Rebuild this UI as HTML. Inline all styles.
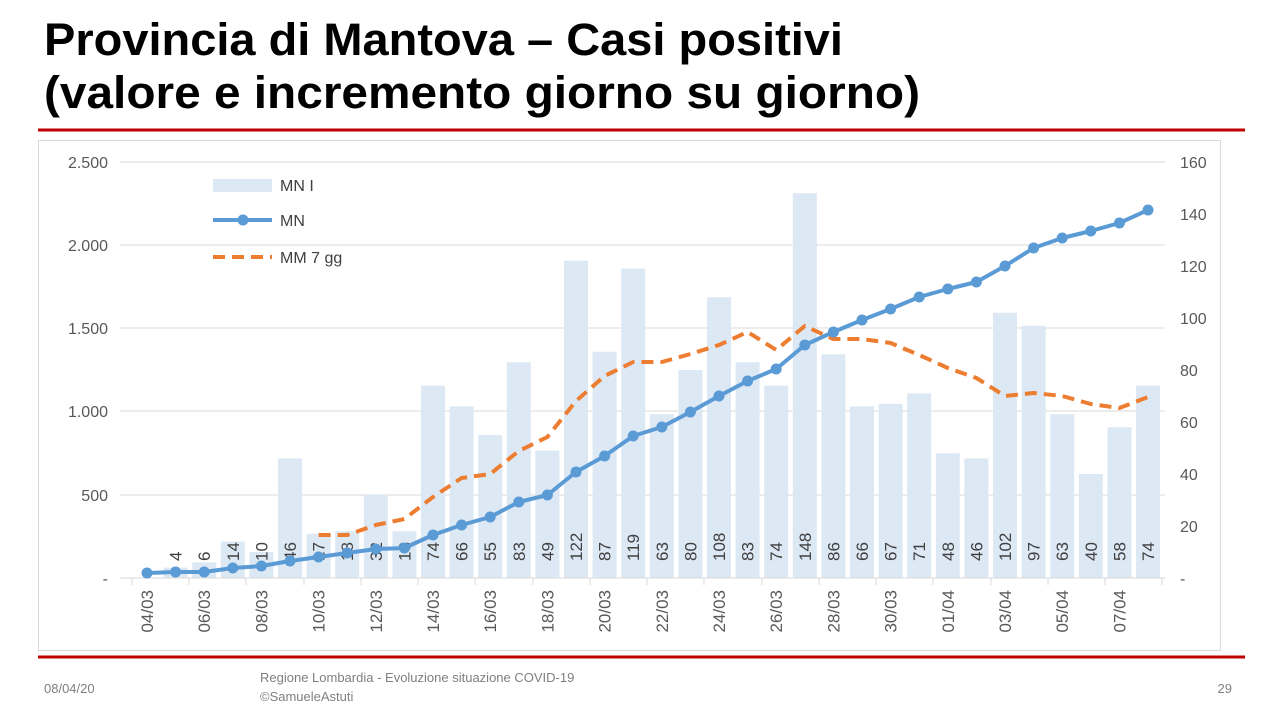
<!DOCTYPE html>
<html><head><meta charset="utf-8"><style>
html,body{margin:0;padding:0;background:#fff;}
body{width:1280px;height:720px;overflow:hidden;font-family:"Liberation Sans",sans-serif;}
</style></head><body>
<svg width="1280" height="720" xmlns="http://www.w3.org/2000/svg" font-family="Liberation Sans, sans-serif">
<text x="44" y="55" font-size="45" font-weight="bold" fill="#000" textLength="799" lengthAdjust="spacingAndGlyphs">Provincia di Mantova – Casi positivi</text>
<text x="44" y="108" font-size="45" font-weight="bold" fill="#000" textLength="876" lengthAdjust="spacingAndGlyphs">(valore e incremento giorno su giorno)</text>
<line x1="38" y1="130" x2="1245" y2="130" stroke="#c00000" stroke-width="3"/>
<rect x="38.5" y="140.5" width="1182" height="510" fill="none" stroke="#d9d9d9"/>
<g stroke="#d9d9d9" stroke-width="1">
<line x1="120" y1="162" x2="1165" y2="162"/><line x1="120" y1="245" x2="1165" y2="245"/>
<line x1="120" y1="328" x2="1165" y2="328"/><line x1="120" y1="411" x2="1165" y2="411"/>
<line x1="120" y1="495" x2="1165" y2="495"/>
</g>
<g fill="#595959" font-size="16" text-anchor="end">
<text x="108" y="168">2.500</text><text x="108" y="251">2.000</text><text x="108" y="334">1.500</text>
<text x="108" y="417">1.000</text><text x="108" y="501">500</text><text x="108" y="584">-</text>
</g>
<g fill="#595959" font-size="16">
<text x="1180" y="168">160</text><text x="1180" y="220">140</text><text x="1180" y="272">120</text>
<text x="1180" y="324">100</text><text x="1180" y="376">80</text><text x="1180" y="428">60</text>
<text x="1180" y="480">40</text><text x="1180" y="532">20</text><text x="1180" y="584">-</text>
</g>
<g fill="#dde8f5">
<rect x="163.6" y="567.6" width="24" height="10.4"/><rect x="192.2" y="562.4" width="24" height="15.6"/>
<rect x="220.8" y="541.6" width="24" height="36.4"/><rect x="249.4" y="552" width="24" height="26"/>
<rect x="278" y="458.4" width="24" height="119.6"/><rect x="306.6" y="533.8" width="24" height="44.2"/>
<rect x="335.2" y="531.2" width="24" height="46.8"/><rect x="363.8" y="494.8" width="24" height="83.2"/>
<rect x="392.4" y="531.2" width="24" height="46.8"/><rect x="421" y="385.6" width="24" height="192.4"/>
<rect x="449.6" y="406.4" width="24" height="171.6"/><rect x="478.2" y="435" width="24" height="143"/>
<rect x="506.8" y="362.2" width="24" height="215.8"/><rect x="535.4" y="450.6" width="24" height="127.4"/>
<rect x="564" y="260.8" width="24" height="317.2"/><rect x="592.6" y="351.8" width="24" height="226.2"/>
<rect x="621.2" y="268.6" width="24" height="309.4"/><rect x="649.8" y="414.2" width="24" height="163.8"/>
<rect x="678.4" y="370" width="24" height="208"/><rect x="707" y="297.2" width="24" height="280.8"/>
<rect x="735.6" y="362.2" width="24" height="215.8"/><rect x="764.2" y="385.6" width="24" height="192.4"/>
<rect x="792.8" y="193.2" width="24" height="384.8"/><rect x="821.4" y="354.4" width="24" height="223.6"/>
<rect x="850" y="406.4" width="24" height="171.6"/><rect x="878.6" y="403.8" width="24" height="174.2"/>
<rect x="907.2" y="393.4" width="24" height="184.6"/><rect x="935.8" y="453.2" width="24" height="124.8"/>
<rect x="964.4" y="458.4" width="24" height="119.6"/><rect x="993" y="312.8" width="24" height="265.2"/>
<rect x="1021.6" y="325.8" width="24" height="252.2"/><rect x="1050.2" y="414.2" width="24" height="163.8"/>
<rect x="1078.8" y="474" width="24" height="104"/><rect x="1107.4" y="427.2" width="24" height="150.8"/>
<rect x="1136" y="385.6" width="24" height="192.4"/>
</g>
<line x1="120" y1="578" x2="1165" y2="578" stroke="#d9d9d9"/>
<g stroke="#d9d9d9">
<line x1="132" y1="578" x2="132" y2="585"/><line x1="189" y1="578" x2="189" y2="585"/><line x1="246" y1="578" x2="246" y2="585"/>
<line x1="304" y1="578" x2="304" y2="585"/><line x1="361" y1="578" x2="361" y2="585"/><line x1="418" y1="578" x2="418" y2="585"/>
<line x1="475" y1="578" x2="475" y2="585"/><line x1="533" y1="578" x2="533" y2="585"/><line x1="590" y1="578" x2="590" y2="585"/>
<line x1="647" y1="578" x2="647" y2="585"/><line x1="704" y1="578" x2="704" y2="585"/><line x1="762" y1="578" x2="762" y2="585"/>
<line x1="819" y1="578" x2="819" y2="585"/><line x1="876" y1="578" x2="876" y2="585"/><line x1="933" y1="578" x2="933" y2="585"/>
<line x1="991" y1="578" x2="991" y2="585"/><line x1="1048" y1="578" x2="1048" y2="585"/><line x1="1105" y1="578" x2="1105" y2="585"/>
<line x1="1162" y1="578" x2="1162" y2="585"/>
</g>
<g fill="#404040" font-size="17">
<text transform="translate(181.6,561) rotate(-90)">4</text><text transform="translate(210.2,561) rotate(-90)">6</text>
<text transform="translate(238.8,561) rotate(-90)">14</text><text transform="translate(267.4,561) rotate(-90)">10</text>
<text transform="translate(296,561) rotate(-90)">46</text><text transform="translate(324.6,561) rotate(-90)">17</text>
<text transform="translate(353.2,561) rotate(-90)">18</text><text transform="translate(381.8,561) rotate(-90)">32</text>
<text transform="translate(410.4,561) rotate(-90)">18</text><text transform="translate(439,561) rotate(-90)">74</text>
<text transform="translate(467.6,561) rotate(-90)">66</text><text transform="translate(496.2,561) rotate(-90)">55</text>
<text transform="translate(524.8,561) rotate(-90)">83</text><text transform="translate(553.4,561) rotate(-90)">49</text>
<text transform="translate(582,561) rotate(-90)">122</text><text transform="translate(610.6,561) rotate(-90)">87</text>
<text transform="translate(639.2,561) rotate(-90)">119</text><text transform="translate(667.8,561) rotate(-90)">63</text>
<text transform="translate(696.4,561) rotate(-90)">80</text><text transform="translate(725,561) rotate(-90)">108</text>
<text transform="translate(753.6,561) rotate(-90)">83</text><text transform="translate(782.2,561) rotate(-90)">74</text>
<text transform="translate(810.8,561) rotate(-90)">148</text><text transform="translate(839.4,561) rotate(-90)">86</text>
<text transform="translate(868,561) rotate(-90)">66</text><text transform="translate(896.6,561) rotate(-90)">67</text>
<text transform="translate(925.2,561) rotate(-90)">71</text><text transform="translate(953.8,561) rotate(-90)">48</text>
<text transform="translate(982.4,561) rotate(-90)">46</text><text transform="translate(1011,561) rotate(-90)">102</text>
<text transform="translate(1039.6,561) rotate(-90)">97</text><text transform="translate(1068.2,561) rotate(-90)">63</text>
<text transform="translate(1096.8,561) rotate(-90)">40</text><text transform="translate(1125.4,561) rotate(-90)">58</text>
<text transform="translate(1154,561) rotate(-90)">74</text>
</g>
<g fill="#595959" font-size="17" text-anchor="end">
<text transform="translate(153,590) rotate(-90)">04/03</text><text transform="translate(210.2,590) rotate(-90)">06/03</text>
<text transform="translate(267.4,590) rotate(-90)">08/03</text><text transform="translate(324.6,590) rotate(-90)">10/03</text>
<text transform="translate(381.8,590) rotate(-90)">12/03</text><text transform="translate(439,590) rotate(-90)">14/03</text>
<text transform="translate(496.2,590) rotate(-90)">16/03</text><text transform="translate(553.4,590) rotate(-90)">18/03</text>
<text transform="translate(610.6,590) rotate(-90)">20/03</text><text transform="translate(667.8,590) rotate(-90)">22/03</text>
<text transform="translate(725,590) rotate(-90)">24/03</text><text transform="translate(782.2,590) rotate(-90)">26/03</text>
<text transform="translate(839.4,590) rotate(-90)">28/03</text><text transform="translate(896.6,590) rotate(-90)">30/03</text>
<text transform="translate(953.8,590) rotate(-90)">01/04</text><text transform="translate(1011,590) rotate(-90)">03/04</text>
<text transform="translate(1068.2,590) rotate(-90)">05/04</text><text transform="translate(1125.4,590) rotate(-90)">07/04</text>
</g>
<polyline fill="none" stroke="#ed7d31" stroke-width="4" stroke-dasharray="12,7" stroke-linejoin="round"
points="318.6,535 347.2,535 375.8,525 404.4,519 433,497 461.6,478 490.2,474 518.8,451 547.4,437 576,401 604.6,376 633.2,362 661.8,362 690.4,354 719,345 747.6,332 776.2,350 804.8,326 833.4,339 862,339 890.6,343 919.2,355 947.8,368 976.4,378 1005,396 1033.6,393 1062.2,396 1090.8,404 1119.4,408 1148,397"/>
<g>
<polyline fill="none" stroke="#5b9bd5" stroke-width="4" stroke-linejoin="round"
points="147,573 175.6,572 204.2,572 232.8,568 261.4,566 290,561 318.6,557 347.2,553 375.8,549 404.4,548 433,535 461.6,525 490.2,517 518.8,502 547.4,495 576,472 604.6,456 633.2,436 661.8,427 690.4,412 719,396 747.6,381 776.2,369 804.8,345 833.4,332 862,320 890.6,309 919.2,297 947.8,289 976.4,282 1005,266 1033.6,248 1062.2,238 1090.8,231 1119.4,223 1148,210"/>
<g fill="#5b9bd5">
<circle cx="147" cy="573" r="5.5"/><circle cx="175.6" cy="572" r="5.5"/><circle cx="204.2" cy="572" r="5.5"/><circle cx="232.8" cy="568" r="5.5"/><circle cx="261.4" cy="566" r="5.5"/><circle cx="290" cy="561" r="5.5"/><circle cx="318.6" cy="557" r="5.5"/><circle cx="347.2" cy="553" r="5.5"/><circle cx="375.8" cy="549" r="5.5"/><circle cx="404.4" cy="548" r="5.5"/><circle cx="433" cy="535" r="5.5"/><circle cx="461.6" cy="525" r="5.5"/><circle cx="490.2" cy="517" r="5.5"/><circle cx="518.8" cy="502" r="5.5"/><circle cx="547.4" cy="495" r="5.5"/><circle cx="576" cy="472" r="5.5"/><circle cx="604.6" cy="456" r="5.5"/><circle cx="633.2" cy="436" r="5.5"/><circle cx="661.8" cy="427" r="5.5"/><circle cx="690.4" cy="412" r="5.5"/><circle cx="719" cy="396" r="5.5"/><circle cx="747.6" cy="381" r="5.5"/><circle cx="776.2" cy="369" r="5.5"/><circle cx="804.8" cy="345" r="5.5"/><circle cx="833.4" cy="332" r="5.5"/><circle cx="862" cy="320" r="5.5"/><circle cx="890.6" cy="309" r="5.5"/><circle cx="919.2" cy="297" r="5.5"/><circle cx="947.8" cy="289" r="5.5"/><circle cx="976.4" cy="282" r="5.5"/><circle cx="1005" cy="266" r="5.5"/><circle cx="1033.6" cy="248" r="5.5"/><circle cx="1062.2" cy="238" r="5.5"/><circle cx="1090.8" cy="231" r="5.5"/><circle cx="1119.4" cy="223" r="5.5"/><circle cx="1148" cy="210" r="5.5"/>
</g>
</g>
<rect x="213" y="179" width="59" height="13" fill="#dde8f5"/>
<text x="280" y="191" font-size="16" fill="#404040">MN I</text>
<line x1="213" y1="220" x2="272" y2="220" stroke="#5b9bd5" stroke-width="4"/>
<circle cx="243" cy="220" r="5.5" fill="#5b9bd5"/>
<text x="280" y="226" font-size="16" fill="#404040">MN</text>
<line x1="213" y1="257" x2="272" y2="257" stroke="#ed7d31" stroke-width="4" stroke-dasharray="12,7"/>
<text x="280" y="263" font-size="16" fill="#404040">MM 7 gg</text>
<line x1="38" y1="657" x2="1245" y2="657" stroke="#c00000" stroke-width="3"/>
<text x="44" y="693" font-size="13" fill="#7f7f7f">08/04/20</text>
<text x="260" y="682" font-size="13" fill="#7f7f7f">Regione Lombardia - Evoluzione situazione COVID-19</text>
<text x="260" y="701" font-size="13" fill="#7f7f7f">©SamueleAstuti</text>
<text x="1232" y="693" font-size="13" fill="#7f7f7f" text-anchor="end">29</text>
</svg>
</body></html>
